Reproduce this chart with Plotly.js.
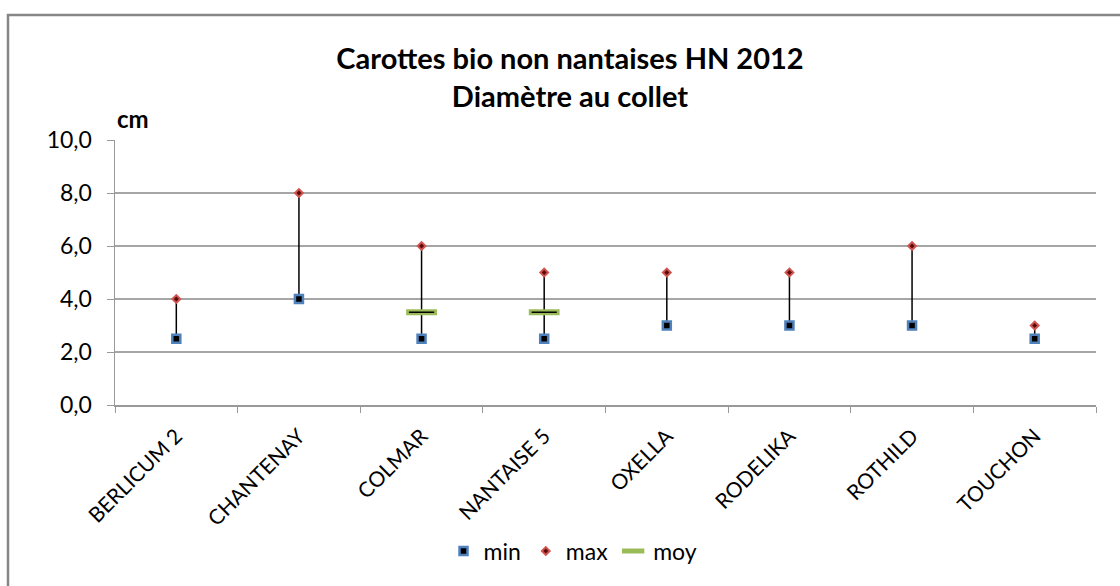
<!DOCTYPE html>
<html>
<head>
<meta charset="utf-8">
<script src="https://cdn.plot.ly/plotly-3.0.1.min.js"></script>
<style>html,body{margin:0;padding:0;background:#fff;}#chart{width:1120px;height:586px;}</style>
</head>
<body>
<div id="chart"></div>
<script>
const categories = ["BERLICUM 2","CHANTENAY","COLMAR","NANTAISE 5","OXELLA","RODELIKA","ROTHILD","TOUCHON"];
const minValues = [2.5, 4.0, 2.5, 2.5, 3.0, 3.0, 3.0, 2.5];
const maxValues = [4.0, 8.0, 6.0, 5.0, 5.0, 5.0, 6.0, 3.0];
const moyValues = [null, null, 3.5, 3.5, null, null, null, null];
const yTickValues = [0, 2, 4, 6, 8, 10];

const FONT = "Lato, 'Open Sans', sans-serif";

// high-low lines built from the data arrays
const hlX = [], hlY = [];
categories.forEach((c, i) => { hlX.push(c, c, null); hlY.push(minValues[i], maxValues[i], null); });

const traces = [
  {x: hlX, y: hlY, mode: 'lines', line: {color: '#000', width: 1.5}, showlegend: false, hoverinfo: 'skip'},
  {x: categories, y: moyValues, name: 'moy', mode: 'markers', type: 'scatter', legendrank: 3,
   marker: {symbol: 'line-ew-open', size: 22, color: '#9BBB59', line: {color: '#9BBB59', width: 6}}},
  {x: categories, y: moyValues, mode: 'markers', type: 'scatter', showlegend: false, hoverinfo: 'skip',
   marker: {symbol: 'line-ew-open', size: 18, color: '#000', line: {color: '#000', width: 1.5}}},
  {x: categories, y: minValues, name: 'min', mode: 'markers', type: 'scatter', legendrank: 1,
   marker: {symbol: 'square', size: 8, color: '#000', line: {color: '#4F81BD', width: 2.5}}},
  {x: categories, y: maxValues, name: 'max', mode: 'markers', type: 'scatter', legendrank: 2,
   marker: {symbol: 'diamond', size: 6, color: '#5a0a0a', line: {color: '#D05550', width: 2}}}
];

const L = 115, R = 24, T = 140, B = 181, W = 1120, H = 586;
const pw = W - L - R, ph = H - T - B;

const layout = {
  width: W, height: H,
  margin: {l: L, r: R, t: T, b: B},
  paper_bgcolor: '#fff', plot_bgcolor: '#fff',
  separators: ',.',
  font: {family: FONT, color: '#000', size: 16},
  showlegend: true,
  legend: {orientation: 'h', x: (573 - L) / pw, xanchor: 'center', y: (405 - 551) / ph, yanchor: 'middle',
           font: {family: FONT, size: 23, color: '#000'}, itemwidth: 30, traceorder: 'normal'},
  xaxis: {type: 'category', range: [-0.5, 7.5], tickangle: -45, tickson: 'boundaries',
          ticks: 'outside', ticklen: 6, tickcolor: '#999', showline: true, linecolor: '#999', linewidth: 1.5,
          ticklabelstandoff: 9,
          showgrid: false, zeroline: false, tickfont: {family: FONT, size: 21, color: '#000'}, fixedrange: true},
  yaxis: {range: [0, 10], tickvals: yTickValues, tickformat: '.1f', ticks: 'outside', ticklen: 7,
          tickcolor: '#999', showline: true, linecolor: '#999', linewidth: 1.5, ticklabelstandoff: 10,
          showgrid: true, gridcolor: '#A6A6A6', gridwidth: 1.2, zeroline: false,
          tickfont: {family: FONT, size: 23, color: '#000'}, fixedrange: true},
  title: {text: '<b>Carottes bio non nantaises HN 2012<br>Diamètre au collet</b>',
          x: 570 / W, xref: 'container', xanchor: 'center', y: 1 - 69 / H, yref: 'container', yanchor: 'middle',
          font: {family: FONT, size: 29, color: '#000'}},
  annotations: [{text: '<b>cm</b>', xref: 'paper', yref: 'paper', x: (115 - L) / pw, y: (405 - 118) / ph,
                 xanchor: 'left', yanchor: 'middle', showarrow: false, font: {family: FONT, size: 24, color: '#000'}}],
  shapes: [{type: 'rect', xref: 'paper', yref: 'paper', x0: (8 - L) / pw, x1: 1.3, y0: -1.5, y1: (405 - 15) / ph,
            line: {color: '#868686', width: 2.5}, fillcolor: 'rgba(0,0,0,0)', layer: 'below'}]
};

Plotly.newPlot('chart', traces, layout, {displayModeBar: false, staticPlot: true});
</script>
</body>
</html>
